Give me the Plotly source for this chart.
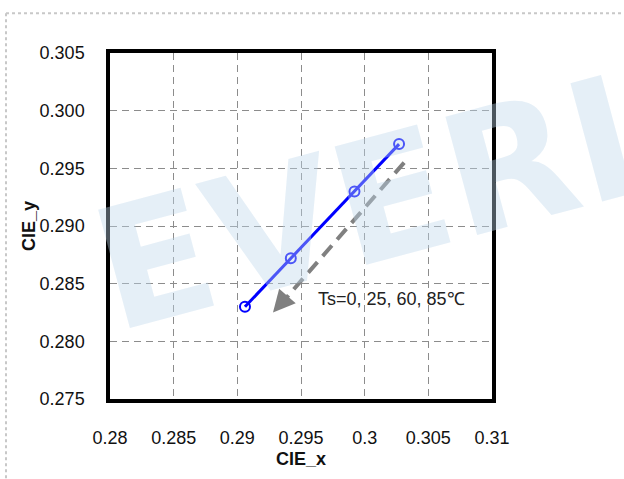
import plotly.graph_objects as go

# data
cie_x = [0.2906, 0.2942, 0.2992, 0.3027]
cie_y = [0.2830, 0.2872, 0.2930, 0.2971]
arrow_x = [0.3031, 0.2930]
arrow_y = [0.2955, 0.2827]
note_text = "Ts=0, 25, 60, 85℃"
x_ticks = [0.28, 0.285, 0.29, 0.295, 0.3, 0.305, 0.31]
x_tick_labels = ["0.28", "0.285", "0.29", "0.295", "0.3", "0.305", "0.31"]
y_ticks = [0.275, 0.280, 0.285, 0.290, 0.295, 0.300, 0.305]
y_tick_labels = ["0.275", "0.280", "0.285", "0.290", "0.295", "0.300", "0.305"]

W, H = 624, 479
ml, mr, mt, mb = 110, 132, 53, 78
pw, ph = W - ml - mr, H - mt - mb

def px(p):
    return (p - ml) / pw

def py(p):
    return (H - mb - p) / ph

FONT = "Liberation Sans, Arial, sans-serif"

fig = go.Figure()

# dashed arrow shaft
fig.add_trace(go.Scatter(
    x=arrow_x, y=arrow_y, mode="lines",
    line=dict(color="#808080", width=4, dash="14px,8px"),
    hoverinfo="skip", showlegend=False,
))

fig.add_trace(go.Scatter(
    x=cie_x, y=cie_y, mode="lines+markers",
    line=dict(color="#0000ff", width=3),
    marker=dict(symbol="circle-open", size=10, color="#0000ff", line=dict(width=2)),
    showlegend=False,
))

annotations = [
    # watermark
    dict(text="<b>EVERLIGHT</b>", xref="paper", yref="paper",
         x=px(72), y=py(140), xanchor="left", yanchor="middle",
         showarrow=False, textangle=-15,
         font=dict(family="DejaVu Sans", size=168, color="rgba(190,215,236,0.40)")),
    # arrow head
    dict(x=0.2928, y=0.2825, ax=0.2928 + 0.0012, ay=0.2825 + 0.00152,
         xref="x", yref="y", axref="x", ayref="y", text="", showarrow=True,
         arrowhead=2, arrowsize=1.1, arrowwidth=4, arrowcolor="#808080"),
    dict(text=note_text, x=0.2962, y=0.2837, xref="x", yref="y",
         xanchor="left", yanchor="middle", showarrow=False,
         font=dict(family=FONT, size=18, color="#222222")),
]

shapes = [
    dict(type="line", xref="paper", yref="paper", x0=px(6), x1=px(640), y0=py(13), y1=py(13),
         line=dict(color="#c8c8c8", width=2, dash="dot")),
    dict(type="line", xref="paper", yref="paper", x0=px(6), x1=px(6), y0=py(13), y1=py(500),
         line=dict(color="#c8c8c8", width=2, dash="dot")),
]

axis_common = dict(
    showgrid=True, gridcolor="#8c8c8c", gridwidth=1, griddash="7px,5px",
    showline=True, linecolor="#000000", linewidth=3.5, mirror=True,
    ticks="", zeroline=False,
    tickfont=dict(family=FONT, size=18, color="#111111"),
)

fig.update_layout(
    width=W, height=H,
    margin=dict(l=ml, r=mr, t=mt, b=mb),
    paper_bgcolor="white", plot_bgcolor="rgba(0,0,0,0)",
    xaxis=dict(range=[0.28, 0.31], tickvals=x_ticks, ticktext=x_tick_labels,
               ticklabelstandoff=20,
               title=dict(text="<b>CIE_x</b>", standoff=6,
                          font=dict(family=FONT, size=18, color="#111111")),
               **axis_common),
    yaxis=dict(range=[0.275, 0.305], tickvals=y_ticks, ticktext=y_tick_labels,
               ticklabelstandoff=18,
               title=dict(text="<b>CIE_y</b>", standoff=0,
                          font=dict(family=FONT, size=18, color="#111111")),
               **axis_common),
    annotations=annotations,
    shapes=shapes,
)

fig.write_html("out.html", config={"displayModeBar": False},
               post_script="document.body.style.margin='0';")
